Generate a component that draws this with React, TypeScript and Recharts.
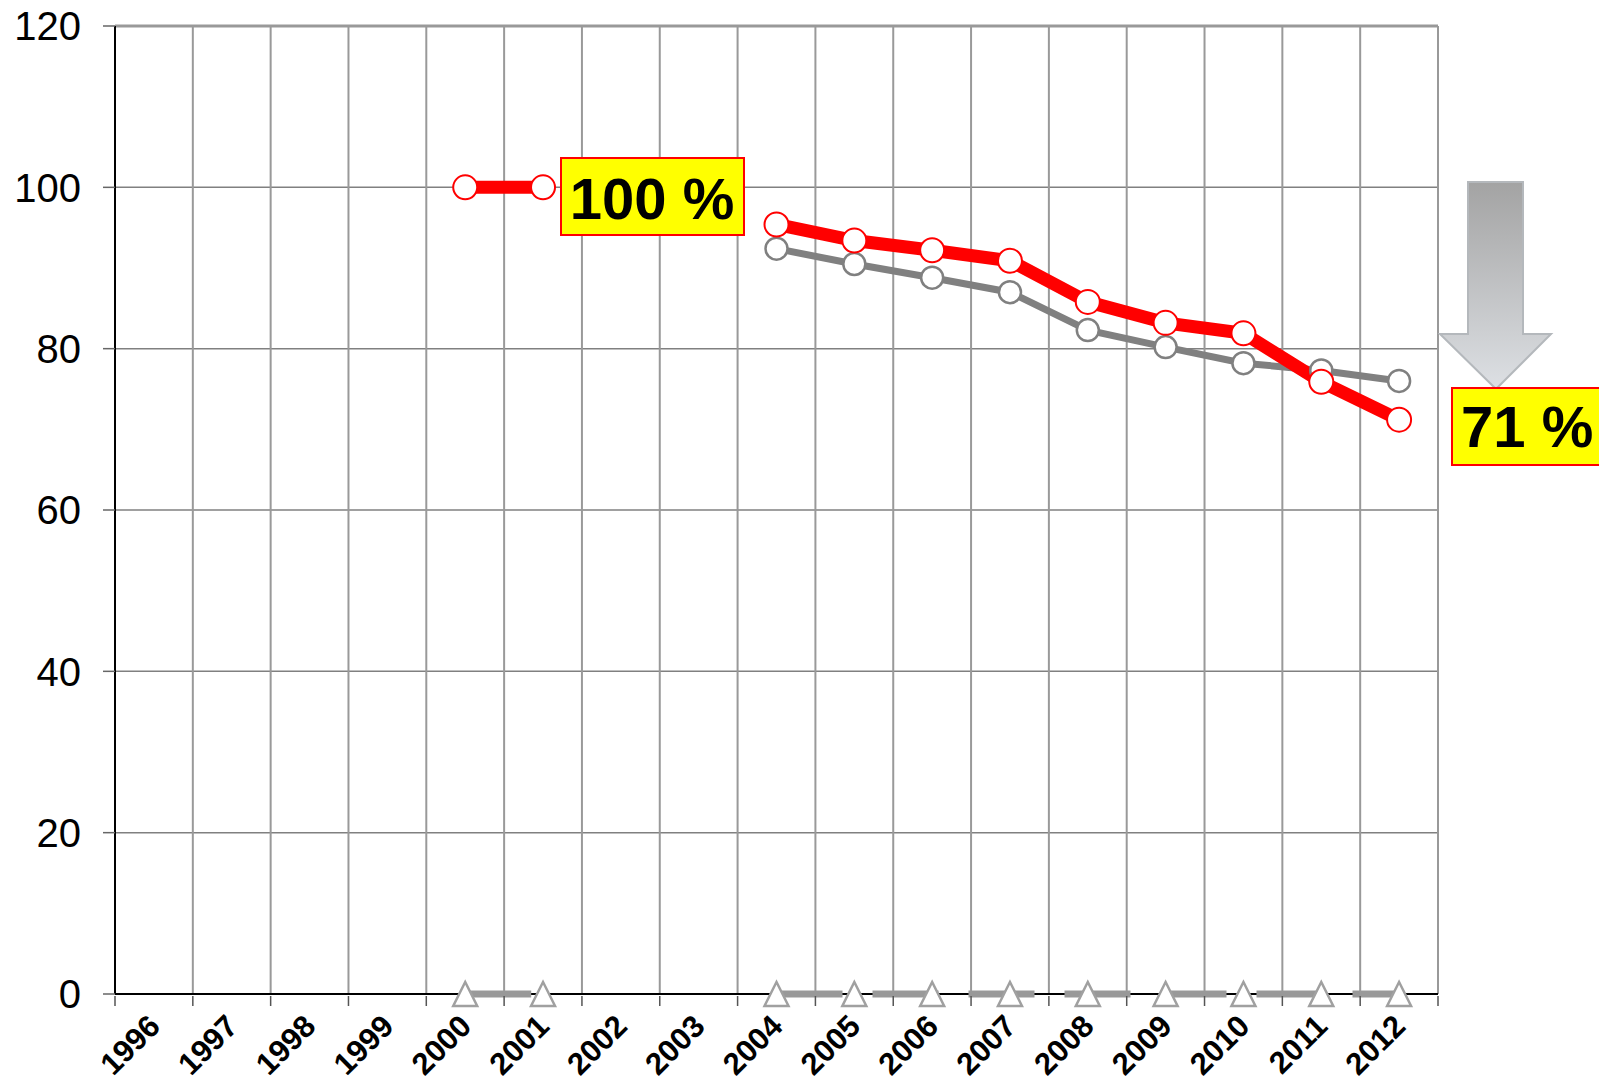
import React from "react";
import { CartesianGrid, Line, LineChart, ReferenceLine, XAxis, YAxis } from "recharts";

const FONT = "'Liberation Sans', Arial, sans-serif";

const years = ["1996", "1997", "1998", "1999", "2000", "2001", "2002", "2003", "2004", "2005", "2006", "2007", "2008", "2009", "2010", "2011", "2012"];
const redValues = [null, null, null, null, 100, 100, null, null, 95.4, 93.4, 92.2, 90.9, 85.8, 83.2, 81.9, 75.9, 71.2];
const grayValues = [null, null, null, null, null, null, null, null, 92.4, 90.5, 88.8, 87.0, 82.3, 80.2, 78.2, 77.3, 76.0];
const baseValues = [null, null, null, null, 0, 0, null, null, 0, 0, 0, 0, 0, 0, 0, 0, 0];
const yTicks = [0, 20, 40, 60, 80, 100, 120];

const data = years.map((year, i) => ({
  year,
  red: redValues[i],
  gray: grayValues[i],
  base: baseValues[i],
}));

const W = 1599;
const H = 1088;
const PLOT_LEFT = 115;
const PLOT_RIGHT = 1438;
const PLOT_TOP = 26;
const PLOT_BOTTOM = 994;
const BAND = (PLOT_RIGHT - PLOT_LEFT) / years.length;

function YearTick(props: any) {
  const { x, y, payload } = props;
  const last = payload.value === years[years.length - 1];
  return (
    <g>
      <line x1={x - BAND / 2} y1={y} x2={x - BAND / 2} y2={y + 10} stroke="#555" strokeWidth={1.5} />
      {last && <line x1={x + BAND / 2} y1={y} x2={x + BAND / 2} y2={y + 10} stroke="#555" strokeWidth={1.5} />}
      <text
        x={x + 8}
        y={y + 32}
        transform={`rotate(-45 ${x + 8} ${y + 32})`}
        textAnchor="end"
        fontFamily={FONT}
        fontWeight="bold"
        fontSize={31}
        fill="#000"
      >
        {payload.value}
      </text>
    </g>
  );
}

function Triangle(props: any) {
  const { cx, cy } = props;
  if (cx == null || cy == null || props.value == null) return null;
  return (
    <polygon
      points={`${cx},${cy - 12} ${cx - 12},${cy + 12} ${cx + 12},${cy + 12}`}
      fill="#fff"
      stroke="#a0a0a0"
      strokeWidth={2.5}
    />
  );
}

function Annotations() {
  return (
    <svg width={W} height={H} style={{ position: "absolute", left: 0, top: 0, pointerEvents: "none" }}>
      <defs>
        <linearGradient id="arrowFill" x1="0" y1="0" x2="0" y2="1">
          <stop offset="0%" stopColor="#a3a3a3" />
          <stop offset="100%" stopColor="#dde0e4" />
        </linearGradient>
      </defs>
      <polygon
        points="1468,182 1523,182 1523,334 1551,334 1496,389 1440,334 1468,334"
        fill="url(#arrowFill)"
        stroke="#b4b8bc"
        strokeWidth={2}
      />
      <rect x={561} y={158} width={183} height={77} fill="#ffff00" stroke="#ff0000" strokeWidth={2} />
      <text x={652} y={219} textAnchor="middle" fontFamily={FONT} fontWeight="bold" fontSize={58} fill="#000">
        100 %
      </text>
      <rect x={1452} y={388} width={160} height={77} fill="#ffff00" stroke="#ff0000" strokeWidth={2} />
      <text x={1461} y={447} fontFamily={FONT} fontWeight="bold" fontSize={58} fill="#000">
        71 %
      </text>
    </svg>
  );
}

export default function App() {
  return (
    <div style={{ position: "absolute", left: 0, top: 0, width: W, height: H, background: "#fff" }}>
      <LineChart
        width={W}
        height={H}
        data={data}
        margin={{ top: PLOT_TOP, right: W - PLOT_RIGHT, bottom: 0, left: 0 }}
      >
        <CartesianGrid vertical={false} stroke="#808080" strokeWidth={1.5} />
        <CartesianGrid
          horizontal={false}
          stroke="#999"
          strokeWidth={2}
          verticalCoordinatesGenerator={({ offset }: any) =>
            Array.from({ length: years.length + 1 }, (_, i) => offset.left + (i * offset.width) / years.length)
          }
        />
        {/* black baseline drawn as a grid line so the series sit on top of it */}
        <CartesianGrid
          vertical={false}
          stroke="#000"
          strokeWidth={2}
          horizontalCoordinatesGenerator={({ offset }: any) => [offset.top + offset.height]}
        />
        <ReferenceLine y={120} stroke="#999" strokeWidth={3} />
        <XAxis
          dataKey="year"
          scale="band"
          height={H - PLOT_BOTTOM}
          interval={0}
          tickSize={0}
          tickLine={false}
          axisLine={false}
          tick={<YearTick />}
        />
        <YAxis
          width={PLOT_LEFT}
          domain={[0, 120]}
          ticks={yTicks}
          tickSize={12}
          tickMargin={22}
          axisLine={{ stroke: "#000", strokeWidth: 2 }}
          tickLine={{ stroke: "#666", strokeWidth: 1.5 }}
          tick={{ fontSize: 40, fill: "#000", fontFamily: FONT }}
        />
        <Line
          dataKey="base"
          stroke="#999"
          strokeWidth={7}
          strokeDasharray="66 30"
          dot={<Triangle />}
          activeDot={false}
          isAnimationActive={false}
        />
        <Line
          dataKey="gray"
          stroke="#808080"
          strokeWidth={7}
          dot={{ r: 11, fill: "#fff", stroke: "#808080", strokeWidth: 2.5 }}
          activeDot={false}
          isAnimationActive={false}
        />
        <Line
          dataKey="red"
          stroke="#ff0000"
          strokeWidth={13}
          dot={{ r: 12, fill: "#fff", stroke: "#ff0000", strokeWidth: 2 }}
          activeDot={false}
          isAnimationActive={false}
        />
      </LineChart>
      <Annotations />
    </div>
  );
}
